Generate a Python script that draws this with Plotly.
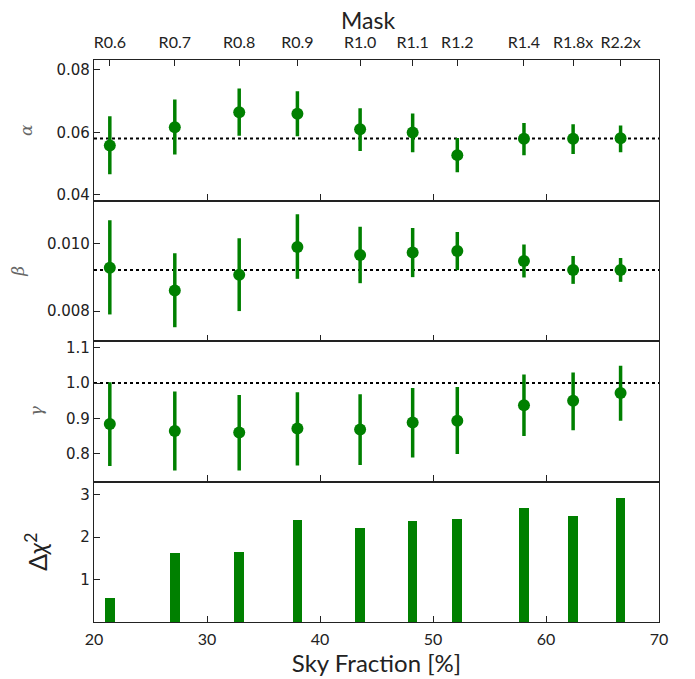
import plotly.graph_objects as go

# ---- data ----
masks = ["R0.6", "R0.7", "R0.8", "R0.9", "R1.0", "R1.1", "R1.2", "R1.4", "R1.8x", "R2.2x"]
sky_fraction = [21.4, 27.15, 32.85, 38.0, 43.55, 48.2, 52.15, 58.05, 62.4, 66.6]

alpha = [0.0558, 0.0616, 0.0664, 0.0659, 0.0610, 0.0599, 0.0527, 0.0579, 0.0579, 0.0581]
alpha_hi = [0.0651, 0.0705, 0.0740, 0.0731, 0.0677, 0.0660, 0.0582, 0.0630, 0.0626, 0.0622]
alpha_lo = [0.0466, 0.0529, 0.0589, 0.0587, 0.0540, 0.0536, 0.0472, 0.0527, 0.0531, 0.0536]
alpha_ref = 0.058

beta = [0.00929, 0.00861, 0.00908, 0.00991, 0.00967, 0.00974, 0.00979, 0.00949, 0.00922, 0.00922]
beta_hi = [0.01070, 0.00972, 0.01017, 0.01088, 0.01051, 0.01047, 0.01035, 0.00998, 0.00964, 0.00958]
beta_lo = [0.00790, 0.00752, 0.00800, 0.00896, 0.00883, 0.00901, 0.00922, 0.00900, 0.00881, 0.00887]
beta_ref = 0.009224

gamma = [0.884, 0.864, 0.860, 0.871, 0.868, 0.888, 0.893, 0.937, 0.950, 0.972]
gamma_hi = [1.002, 0.976, 0.966, 0.974, 0.968, 0.986, 0.989, 1.024, 1.030, 1.049]
gamma_lo = [0.765, 0.752, 0.752, 0.766, 0.768, 0.789, 0.799, 0.850, 0.866, 0.893]
gamma_ref = 1.0

delta_chi2 = [0.567, 1.63, 1.65, 2.41, 2.22, 2.39, 2.43, 2.69, 2.50, 2.93]

GREEN = "#008000"
LINE = "#222222"
TICKFONT = dict(family="DejaVu Sans", size=15, color="#222222")
LABELFONT = dict(family="Lato", size=16, color="#222222")

fig = go.Figure()


def err_trace(y, hi, lo, xa, ya):
    return go.Scatter(
        x=sky_fraction, y=y, mode="markers",
        marker=dict(color=GREEN, size=12),
        error_y=dict(type="data", symmetric=False,
                     array=[h - v for h, v in zip(hi, y)],
                     arrayminus=[v - l for l, v in zip(lo, y)],
                     color=GREEN, thickness=3.5, width=0),
        xaxis=xa, yaxis=ya, showlegend=False, hoverinfo="skip")


fig.add_trace(err_trace(alpha, alpha_hi, alpha_lo, "x", "y"))
fig.add_trace(err_trace(beta, beta_hi, beta_lo, "x2", "y2"))
fig.add_trace(err_trace(gamma, gamma_hi, gamma_lo, "x3", "y3"))
fig.add_trace(go.Bar(x=sky_fraction, y=delta_chi2, width=0.85, marker=dict(color=GREEN, line=dict(width=0)),
                     xaxis="x4", yaxis="y4", showlegend=False, hoverinfo="skip"))
# invisible carrier trace so the top (mask) axis is drawn
fig.add_trace(go.Scatter(x=sky_fraction, y=alpha, mode="markers", marker=dict(opacity=0),
                         xaxis="x5", yaxis="y", showlegend=False, hoverinfo="skip"))

for ref, yr in [(alpha_ref, "y"), (beta_ref, "y2"), (gamma_ref, "y3")]:
    fig.add_shape(type="line", xref="x domain" if yr == "y" else "x" + yr[1:] + " domain", yref=yr,
                  x0=0, x1=1, y0=ref, y1=ref, line=dict(color="black", width=2, dash="dot"), layer="below")

domains = [[0.75, 1.0], [0.5, 0.75], [0.25, 0.5], [0.0, 0.25]]
yranges = [[0.0382, 0.0831], [0.00711, 0.01129], [0.721, 1.119], [0, 3.31]]
ytickvals = [[0.04, 0.06, 0.08], [0.008, 0.010], [0.8, 0.9, 1.0, 1.1], [1, 2, 3]]
yticktext = [["0.04", "0.06", "0.08"], ["0.008", "0.010"], ["0.8", "0.9", "1.0", "1.1"], ["1", "2", "3"]]
ytitles = ["<i>α</i>", "<i>β</i>", "<i>γ</i>", "Δ<i>χ</i><sup>2</sup>"]

# page body has an 8px margin -> shrink figure and margins accordingly
layout = dict(
    width=687, height=671,
    margin=dict(l=86, r=36, t=52, b=57, autoexpand=False),
    paper_bgcolor="white", plot_bgcolor="white",
    bargap=0,
)

axis_common = dict(showline=True, linecolor=LINE, linewidth=1.3, mirror=True,
                   ticks="inside", ticklen=6, tickwidth=1.3, tickcolor=LINE,
                   showgrid=False, zeroline=False, automargin=False)

for i in range(4):
    n = "" if i == 0 else str(i + 1)
    last = i == 3
    layout["xaxis" + n] = dict(
        axis_common, anchor="y" + n, domain=[0, 1], range=[20, 70],
        tickvals=[20, 30, 40, 50, 60, 70],
        showticklabels=last, tickfont=dict(family="Lato", size=16, color="#222222"),
        ticklabelstandoff=3,
        title=dict(text="Sky Fraction [%]", font=dict(family="Lato", size=24, color="#222222"), standoff=0) if last else None,
    )
    if i > 0:
        layout["xaxis" + n]["matches"] = "x"
    title_font = dict(family="DejaVu Serif", size=17, color="#666666") if i < 3 else dict(family="Lato", size=25, color="#222222")
    layout["yaxis" + n] = dict(
        axis_common, anchor="x" + n, domain=domains[i], range=yranges[i],
        tickvals=ytickvals[i], ticktext=yticktext[i], tickfont=TICKFONT,
        title=dict(text=ytitles[i], font=title_font, standoff=19 if i < 3 else 25),
    )

layout["xaxis5"] = dict(
    overlaying="x", anchor="y", side="top", range=[20, 70],
    tickvals=sky_fraction, ticktext=masks, ticks="inside", ticklen=6, tickwidth=1.3, tickcolor=LINE,
    tickfont=LABELFONT, showgrid=False, zeroline=False, showline=False, automargin=False,
    ticklabelstandoff=8,
)

layout["annotations"] = [dict(text="Mask", xref="paper", yref="paper", x=0.485, y=1,
                              xanchor="center", yanchor="bottom", yshift=24, showarrow=False,
                              font=dict(family="Lato", size=23, color="#222222"))]

fig.update_layout(**layout)
fig.write_html("out.html")
